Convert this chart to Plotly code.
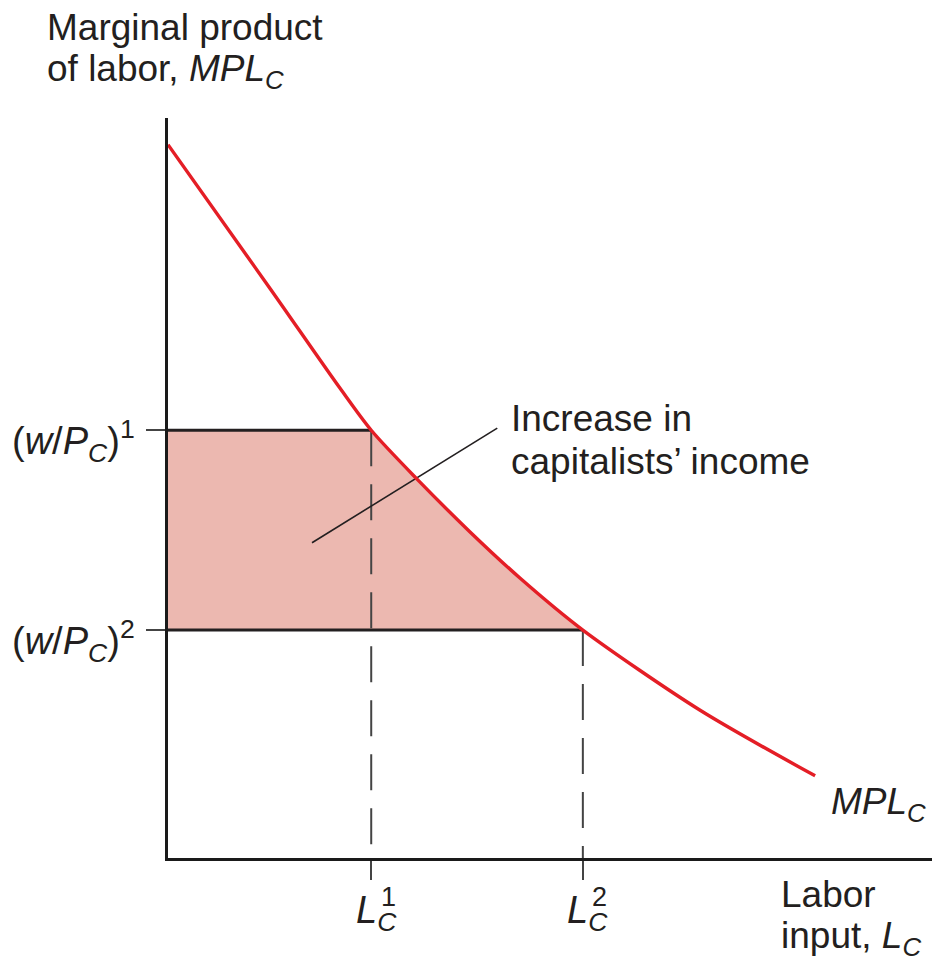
import plotly.graph_objects as go

# MPL_C curve
mpl_x = [0.0, 1.34, 2.25, 2.66, 3.26, 3.95, 4.61, 5.43, 6.96, 8.47]
mpl_y = [9.64, 7.69, 6.35, 5.78, 5.12, 4.41, 3.78, 3.08, 2.00, 1.11]

# real wage levels (w/P_C)^1, (w/P_C)^2 and matching labor inputs L_C^1, L_C^2
wage = [5.78, 3.08]
labor = [2.66, 5.43]
wage_labels = ["(<i>w</i>/<i>P<sub>C</sub></i>)<sup>1</sup>",
               "(<i>w</i>/<i>P<sub>C</sub></i>)<sup>2</sup>"]
labor_labels = ["<i>L<sub>C</sub></i>", "<i>L<sub>C</sub></i>"]
labor_sups = ["1", "2"]

# leader line for the "Increase in capitalists' income" note
leader_x = [1.885, 4.31]
leader_y = [4.26, 5.81]

FONT = "Liberation Sans, Arial, Helvetica, sans-serif"
INK = "#231f20"
RED = "#e41e26"
FILL = "#ecb8b0"

i1 = mpl_x.index(labor[0])
i2 = mpl_x.index(labor[1])

fig = go.Figure()

# shaded area: rectangle up to L1 plus the wedge under the curve to L2
fig.add_trace(go.Scatter(
    x=[0, 0] + mpl_x[i1:i2 + 1],
    y=[wage[1], wage[0]] + mpl_y[i1:i2 + 1],
    fill="toself", fillcolor=FILL, mode="none", hoverinfo="skip"))

# dashed drops to the x axis
for lx, wy in zip(labor, wage):
    fig.add_trace(go.Scatter(
        x=[lx, lx], y=[wy, 0], mode="lines",
        line=dict(color="#444", width=2, dash="36px,18px"), hoverinfo="skip"))

# horizontal wage lines
for lx, wy in zip(labor, wage):
    fig.add_trace(go.Scatter(
        x=[0, lx], y=[wy, wy], mode="lines",
        line=dict(color=INK, width=3), hoverinfo="skip"))

# leader line
fig.add_trace(go.Scatter(
    x=leader_x, y=leader_y, mode="lines",
    line=dict(color=INK, width=1.6), hoverinfo="skip"))

# MPL curve
fig.add_trace(go.Scatter(
    x=mpl_x, y=mpl_y, mode="lines",
    line=dict(color=RED, width=3.4, shape="spline", smoothing=0.8)))

W, H = 932, 966
L, T, R, B = 168, 118, 0, 108
pw, ph = W - L - R, H - T - B


def px(x):
    return (x - L) / pw


def py(y):
    return (H - B - y) / ph


def note(text, x, y, size=37, anchor="left"):
    fig.add_annotation(text=text, x=px(x), y=py(y), xref="paper", yref="paper",
                       xanchor=anchor, yanchor="middle", showarrow=False,
                       font=dict(size=size, color=INK, family=FONT))


note("Marginal product", 45, 28)
note("of labor, <i>MPL<sub>C</sub></i>", 45, 71)
note("Increase in", 509, 418)
note("capitalists’ income", 509, 461)
note("<i>MPL<sub>C</sub></i>", 829, 804)
note("Labor", 779, 894)
note("input, <i>L<sub>C</sub></i>", 779, 938)

# y tick labels
for wy, s in zip(wage, wage_labels):
    fig.add_annotation(text=s, x=px(137), y=wy, xref="paper", yref="y",
                       xanchor="right", yanchor="middle", yshift=-11,
                       showarrow=False,
                       font=dict(size=38, color=INK, family=FONT))

# x tick labels with stacked super/subscripts
for lx, s, sup in zip(labor, labor_labels, labor_sups):
    fig.add_annotation(text=s, x=lx, y=py(913), xref="x", yref="paper",
                       xshift=5, showarrow=False, yanchor="middle",
                       font=dict(size=38, color=INK, family=FONT))
    fig.add_annotation(text=sup, x=lx, y=py(897), xref="x", yref="paper",
                       xshift=17, showarrow=False, yanchor="middle",
                       font=dict(size=27, color=INK, family=FONT))

fig.update_layout(
    width=W, height=H,
    margin=dict(l=L, r=R, t=T, b=B, autoexpand=False),
    plot_bgcolor="white", paper_bgcolor="white",
    showlegend=False,
    font=dict(family=FONT, color=INK, size=37),
    xaxis=dict(range=[0, 10], showgrid=False, zeroline=False,
               showline=True, linewidth=3, linecolor="#1a1a1a",
               ticks="outside", ticklen=19, tickwidth=2, tickcolor="#444",
               tickvals=labor, showticklabels=False),
    yaxis=dict(range=[0, 10], showgrid=False, zeroline=False,
               showline=True, linewidth=3, linecolor="#1a1a1a",
               ticks="outside", ticklen=19, tickwidth=2, tickcolor="#444",
               tickvals=wage, showticklabels=False),
)

# drop the page's default 8px body margin so the figure fills the window
fig.write_html("out.html",
               config={"displayModeBar": False},
               post_script="document.body.style.margin = '0';")
